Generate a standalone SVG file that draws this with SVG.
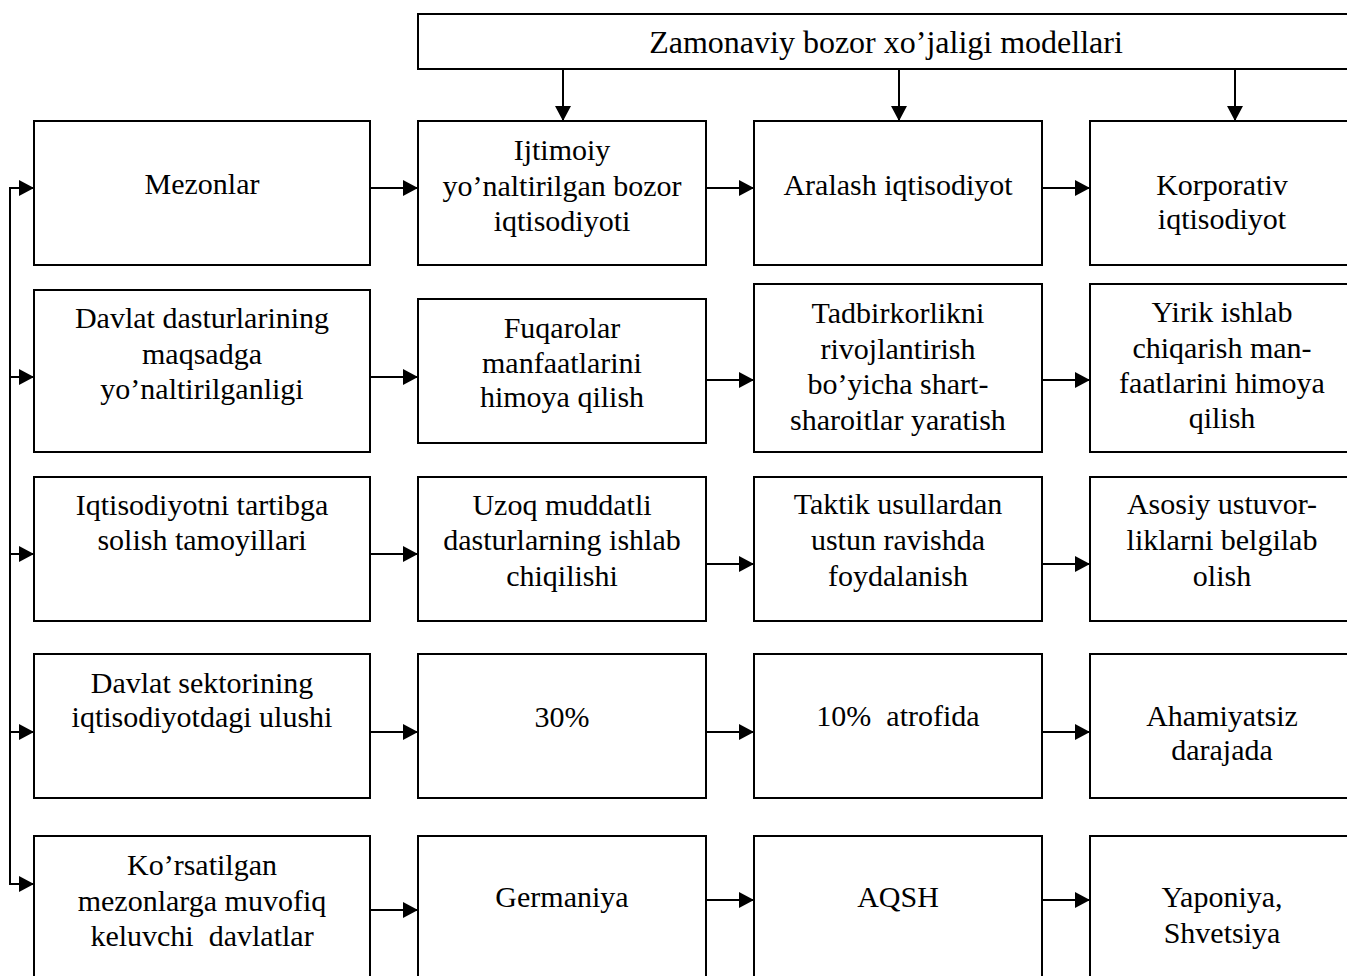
<svg xmlns="http://www.w3.org/2000/svg" width="1347" height="976" viewBox="0 0 1347 976">
<defs>
<style>
rect.b{fill:#fff;stroke:#000;stroke-width:2}
text{font-family:"Liberation Serif","Times New Roman",serif;font-size:30px;fill:#000;text-anchor:middle;white-space:pre}
.c line,.c path{stroke:#000;stroke-width:2;fill:none}
</style>
<marker id="ah" viewBox="0 0 15 16" refX="15" refY="8" markerWidth="15" markerHeight="16" markerUnits="userSpaceOnUse" orient="auto">
<path d="M0,0 L15,8 L0,16 Z" fill="#000"/>
</marker>
</defs>
<rect width="1347" height="976" fill="#fff"/>

<g id="top">
<rect class="b" x="418" y="14" width="960" height="55"/>
<text x="886" y="53" style="font-size:32px">Zamonaviy bozor xo’jaligi modellari</text>
</g>

<g id="r1c1"><rect class="b" x="34" y="121" width="336" height="144"/><text x="202" y="194">Mezonlar</text></g>
<g id="r1c2"><rect class="b" x="418" y="121" width="288" height="144"/><text x="562" y="160">Ijtimoiy</text><text x="562" y="196">yo’naltirilgan bozor</text><text x="562" y="231">iqtisodiyoti</text></g>
<g id="r1c3"><rect class="b" x="754" y="121" width="288" height="144"/><text x="898" y="195">Aralash iqtisodiyot</text></g>
<g id="r1c4"><rect class="b" x="1090" y="121" width="288" height="144"/><text x="1222" y="195">Korporativ</text><text x="1222" y="229">iqtisodiyot</text></g>

<g id="r2c1"><rect class="b" x="34" y="290" width="336" height="162"/><text x="202" y="328">Davlat dasturlarining</text><text x="202" y="364">maqsadga</text><text x="202" y="399">yo’naltirilganligi</text></g>
<g id="r2c2"><rect class="b" x="418" y="299" width="288" height="144"/><text x="562" y="338">Fuqarolar</text><text x="562" y="373">manfaatlarini</text><text x="562" y="407">himoya qilish</text></g>
<g id="r2c3"><rect class="b" x="754" y="284" width="288" height="168"/><text x="898" y="323">Tadbirkorlikni</text><text x="898" y="359">rivojlantirish</text><text x="898" y="394">bo’yicha shart-</text><text x="898" y="430">sharoitlar yaratish</text></g>
<g id="r2c4"><rect class="b" x="1090" y="284" width="288" height="168"/><text x="1222" y="322">Yirik ishlab</text><text x="1222" y="358">chiqarish man-</text><text x="1222" y="393">faatlarini himoya</text><text x="1222" y="428">qilish</text></g>

<g id="r3c1"><rect class="b" x="34" y="477" width="336" height="144"/><text x="202" y="515">Iqtisodiyotni tartibga</text><text x="202" y="550">solish tamoyillari</text></g>
<g id="r3c2"><rect class="b" x="418" y="477" width="288" height="144"/><text x="562" y="515">Uzoq muddatli</text><text x="562" y="550">dasturlarning ishlab</text><text x="562" y="586">chiqilishi</text></g>
<g id="r3c3"><rect class="b" x="754" y="477" width="288" height="144"/><text x="898" y="514">Taktik usullardan</text><text x="898" y="550">ustun ravishda</text><text x="898" y="586">foydalanish</text></g>
<g id="r3c4"><rect class="b" x="1090" y="477" width="288" height="144"/><text x="1222" y="514">Asosiy ustuvor-</text><text x="1222" y="550">liklarni belgilab</text><text x="1222" y="586">olish</text></g>

<g id="r4c1"><rect class="b" x="34" y="654" width="336" height="144"/><text x="202" y="693">Davlat sektorining</text><text x="202" y="727">iqtisodiyotdagi ulushi</text></g>
<g id="r4c2"><rect class="b" x="418" y="654" width="288" height="144"/><text x="562" y="727">30%</text></g>
<g id="r4c3"><rect class="b" x="754" y="654" width="288" height="144"/><text x="898" y="726">10%  atrofida</text></g>
<g id="r4c4"><rect class="b" x="1090" y="654" width="288" height="144"/><text x="1222" y="726">Ahamiyatsiz</text><text x="1222" y="760">darajada</text></g>

<g id="r5c1"><rect class="b" x="34" y="836" width="336" height="160"/><text x="202" y="875">Ko’rsatilgan</text><text x="202" y="911">mezonlarga muvofiq</text><text x="202" y="946">keluvchi  davlatlar</text></g>
<g id="r5c2"><rect class="b" x="418" y="836" width="288" height="160"/><text x="562" y="907">Germaniya</text></g>
<g id="r5c3"><rect class="b" x="754" y="836" width="288" height="160"/><text x="898" y="907">AQSH</text></g>
<g id="r5c4"><rect class="b" x="1090" y="836" width="288" height="160"/><text x="1222" y="907">Yaponiya,</text><text x="1222" y="943">Shvetsiya</text></g>

<g id="connectors" class="c">
<line x1="563" y1="69" x2="563" y2="121" marker-end="url(#ah)"/>
<line x1="899" y1="69" x2="899" y2="121" marker-end="url(#ah)"/>
<line x1="1235" y1="69" x2="1235" y2="121" marker-end="url(#ah)"/>

<path d="M34,188 H10 V884 H34"/>
<line x1="10" y1="188" x2="34" y2="188" marker-end="url(#ah)"/>
<line x1="10" y1="377" x2="34" y2="377" marker-end="url(#ah)"/>
<line x1="10" y1="554" x2="34" y2="554" marker-end="url(#ah)"/>
<line x1="10" y1="732" x2="34" y2="732" marker-end="url(#ah)"/>
<line x1="10" y1="884" x2="34" y2="884" marker-end="url(#ah)"/>

<line x1="370" y1="188" x2="418" y2="188" marker-end="url(#ah)"/>
<line x1="706" y1="188" x2="754" y2="188" marker-end="url(#ah)"/>
<line x1="1042" y1="188" x2="1090" y2="188" marker-end="url(#ah)"/>

<line x1="370" y1="377" x2="418" y2="377" marker-end="url(#ah)"/>
<line x1="706" y1="380" x2="754" y2="380" marker-end="url(#ah)"/>
<line x1="1042" y1="380" x2="1090" y2="380" marker-end="url(#ah)"/>

<line x1="370" y1="554" x2="418" y2="554" marker-end="url(#ah)"/>
<line x1="706" y1="564" x2="754" y2="564" marker-end="url(#ah)"/>
<line x1="1042" y1="564" x2="1090" y2="564" marker-end="url(#ah)"/>

<line x1="370" y1="732" x2="418" y2="732" marker-end="url(#ah)"/>
<line x1="706" y1="732" x2="754" y2="732" marker-end="url(#ah)"/>
<line x1="1042" y1="732" x2="1090" y2="732" marker-end="url(#ah)"/>

<line x1="370" y1="910" x2="418" y2="910" marker-end="url(#ah)"/>
<line x1="706" y1="900" x2="754" y2="900" marker-end="url(#ah)"/>
<line x1="1042" y1="900" x2="1090" y2="900" marker-end="url(#ah)"/>
</g>
</svg>
